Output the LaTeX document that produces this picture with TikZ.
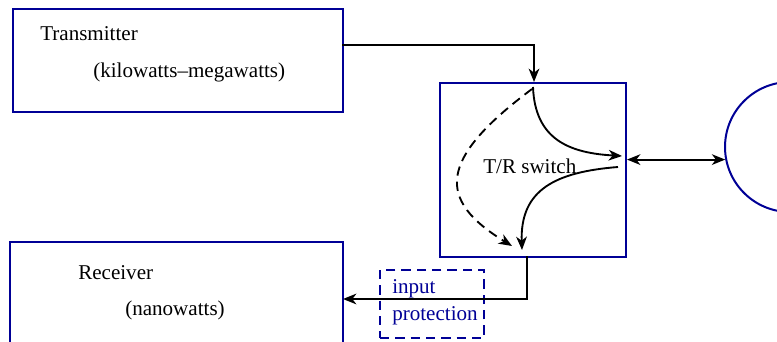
\documentclass[tikz,border=0pt]{standalone}
\usepackage{fontspec}
\setmainfont{Liberation Serif}
\usetikzlibrary{arrows.meta}
\definecolor{tblue}{RGB}{0,0,150}
\begin{document}
\begin{tikzpicture}[x=0.75pt,y=-0.75pt,
  box/.style={draw=tblue,line width=1.5pt,rectangle,inner sep=0pt,anchor=north west},
  lbl/.style={anchor=west,inner sep=0pt,font=\fontsize{15.8}{18}\selectfont},
  conn/.style={line width=1.4pt,-{Stealth[length=10pt,width=8pt,inset=3pt]}},
  dconn/.style={line width=1.4pt,{Stealth[length=10pt,width=8pt,inset=3pt]}-{Stealth[length=10pt,width=8pt,inset=3pt]}}]
\clip (0,0) rectangle (777,342);
% boxes
\node[box,minimum width=330*0.75pt,minimum height=103*0.75pt] (tx) at (12,8) {};
\node[box,minimum width=186*0.75pt,minimum height=174*0.75pt] (sw) at (439,82) {};
\node[box,minimum width=333*0.75pt,minimum height=130*0.75pt] (rx) at (9,241) {};
\node[box,draw=tblue,dash pattern=on 7pt off 4.5pt,minimum width=104*0.75pt,minimum height=68*0.75pt] (prot) at (379,269) {};
\node[draw=tblue,line width=1.5pt,circle,minimum size=130*0.75pt,inner sep=0pt] (ant) at (790,147) {};
% labels
\node[lbl] (txl1) at (40,34) {Transmitter};
\node[lbl] (txl2) at (93,72) {(kilowatts\textendash megawatts)};
\node[lbl] (swl) at (483,166) {T/R switch};
\node[lbl] (rxl1) at (78,273) {Receiver};
\node[lbl] (rxl2) at (125,310) {(nanowatts)};
\node[lbl,text=tblue] (pl1) at (392,289) {input};
\node[lbl,text=tblue] (pl2) at (392,316) {protection};
% coordinates
\coordinate (txout) at (342,45);
\coordinate (swin) at (534,82);
\coordinate (swout) at (527,256);
\coordinate (rxin) at (343,299);
\coordinate (a1) at (533,87);
\coordinate (a2) at (622,156);
\coordinate (b1) at (618,167);
\coordinate (b2) at (522,250);
\coordinate (c1) at (532,89);
\coordinate (c2) at (512,246);
% connectors
\draw[conn] (txout) -| (swin);
\draw[conn] (swout) |- (rxin);
\draw[dconn] (sw.east |- ant.191) -- (ant.191);
\draw[conn] (a1) .. controls (535,140) and (570,153) .. (a2);
\draw[conn] (b1) .. controls (555,172) and (520,190) .. (b2);
\draw[conn,dash pattern=on 7pt off 4.5pt] (c1) .. controls (437,160) and (437,200) .. (c2);
\end{tikzpicture}
\end{document}
